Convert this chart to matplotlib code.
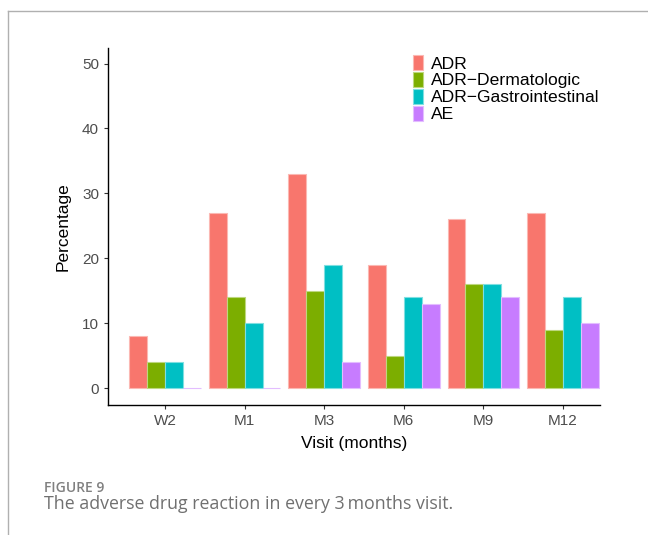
import matplotlib
matplotlib.use("Agg")
import matplotlib.pyplot as plt
import numpy as np
from matplotlib.lines import Line2D
from matplotlib.patches import Patch

visits = ["W2", "M1", "M3", "M6", "M9", "M12"]
series_names = ["ADR", "ADR\u2212Dermatologic", "ADR\u2212Gastrointestinal", "AE"]
adr = [8, 27, 33, 19, 26, 27]
adr_derm = [4, 14, 15, 5, 16, 9]
adr_gi = [4, 10, 19, 14, 16, 14]
ae = [0, 0, 4, 13, 14, 10]
yticks = [0, 10, 20, 30, 40, 50]

colors = ["#F8766D", "#7CAE00", "#00BFC4", "#C77CFF"]
edges = ["#FBB8B3", "#BDD77F", "#7FDFE1", "#E3BDFF"]

plt.rcParams['font.family'] = ['Liberation Sans', 'DejaVu Sans']

fig = plt.figure(figsize=(6.48, 5.35), dpi=100)
ax = fig.add_axes([108/648, 1-405/535, (600-108)/648, (405-48)/535])

data = [adr, adr_derm, adr_gi, ae]
x = np.arange(1, len(visits)+1)
w = 0.9/4
for i, (vals, c, e) in enumerate(zip(data, colors, edges)):
    ax.bar(x - 0.45 + w*(i+0.5), vals, width=w, color=c, edgecolor=e, linewidth=0.8)

ax.set_xlim(0.284, 6.465)
ax.set_ylim(-2.6, 52.4)
ax.set_xticks(x)
ax.set_xticklabels(visits)
ax.set_yticks(yticks)
ax.tick_params(axis='both', colors='#333333', labelcolor='#4D4D4D', labelsize=11, length=3, width=0.8)
for s in ['top', 'right']:
    ax.spines[s].set_visible(False)
for s in ['left', 'bottom']:
    ax.spines[s].set_linewidth(1.0)
    ax.spines[s].set_color('black')
ax.set_xlabel("Visit (months)", fontsize=12.5, labelpad=6)
ax.set_ylabel("Percentage", fontsize=12.5, labelpad=8)

handles = [Patch(facecolor=c, edgecolor=e, linewidth=0.8) for c, e in zip(colors, edges)]
leg = ax.legend(handles, series_names, loc='upper left', bbox_to_anchor=(0.605, 1.0),
                frameon=False, fontsize=12.6, handlelength=0.6, handleheight=0.95,
                handletextpad=0.45, labelspacing=0.02, borderaxespad=0.0)

# frame lines
fig.add_artist(Line2D([8/648, 1], [1-11/535, 1-11/535], color='#B0B0B0', lw=1.0))
fig.add_artist(Line2D([8/648, 8/648], [0, 1-11/535], color='#B0B0B0', lw=1.0))

fig.text(44/648, 1-488/535, "FIGURE 9", fontsize=10, color='#808080', family=['Open Sans', 'DejaVu Sans'],
         fontweight='semibold', va='center', ha='left')
fig.text(44/648, 1-504/535, "The adverse drug reaction in every 3\u2009months visit.", fontsize=12.75,
         color='#707070', family=['Open Sans', 'DejaVu Sans'], va='center', ha='left')

fig.savefig("out.png", dpi=100)
